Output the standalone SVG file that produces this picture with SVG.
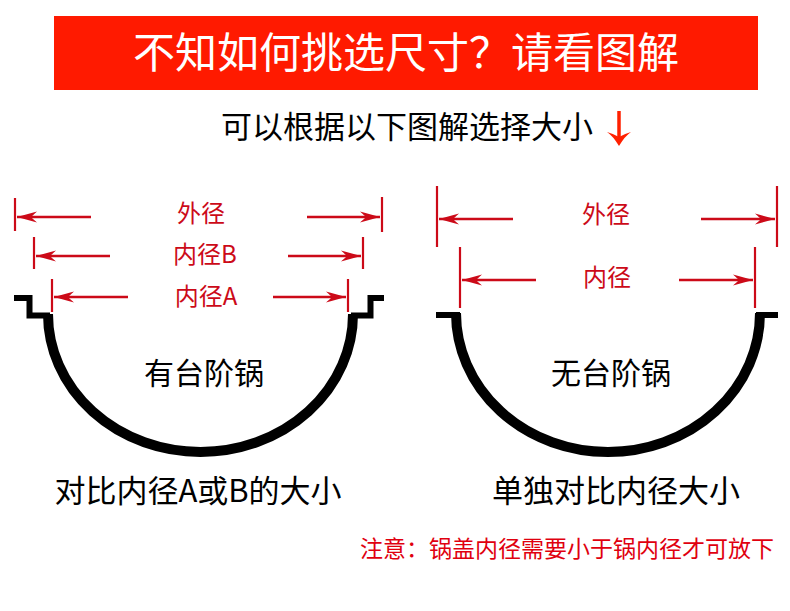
<svg xmlns="http://www.w3.org/2000/svg" width="790" height="611" viewBox="0 0 790 611">
<defs>
<style>
.cjk{font-family:"Noto Sans CJK SC","Noto Sans",sans-serif;text-anchor:middle}
.blk{fill:#000}
.lab{fill:#cc0a18;font-size:24px}
.dim{stroke:#cc0a18;stroke-width:2.5;fill:none;marker-end:url(#ah)}
.tick{stroke:#cc0a18;stroke-width:2.2}
.pot{stroke:#000;fill:none}
</style>
<marker id="ah" markerUnits="userSpaceOnUse" viewBox="-21 -6 22 12" refX="0" refY="0" markerWidth="22" markerHeight="12" orient="auto">
<path d="M0,0 L-20,-5.5 Q-15,-1 -14,0 Q-15,1 -20,5.5 Z" fill="#cc0a18"/>
</marker>
</defs>
<rect width="790" height="611" fill="#fff"/>
<g id="header">
<rect x="54" y="16" width="704" height="74" fill="#ff1a00"/>
<text class="cjk" x="406" y="68" font-size="42" fill="#fff">不知如何挑选尺寸？请看图解</text>
</g>
<g id="subtitle">
<text class="cjk blk" x="407" y="138" font-size="31">可以根据以下图解选择大小</text>
<line x1="619" y1="111" x2="619" y2="140" stroke="#ff2000" stroke-width="3.5"/>
<path d="M619,146 Q613,136 607,132 Q614,134 619,137 Q624,134 631,132 Q625,136 619,146 Z" fill="#ff2000"/>
</g>
<g id="pot-step">
<polyline class="pot" stroke-width="6" points="14,298 29.5,298 29.5,315.5 50,315.5"/>
<polyline class="pot" stroke-width="6" points="351,315.5 370.5,315.5 370.5,298 384,298"/>
<path class="pot" stroke-width="10" d="M48,314 A152.5,138 0 0 0 353,314"/>
<text class="cjk blk" x="204" y="384" font-size="30">有台阶锅</text>
<text class="cjk blk" x="198" y="502" font-size="31">对比内径A或B的大小</text>
</g>
<g id="pot-flat">
<line class="pot" stroke-width="6" x1="436" y1="315" x2="460" y2="315"/>
<line class="pot" stroke-width="6" x1="756" y1="315" x2="778" y2="315"/>
<path class="pot" stroke-width="10" d="M456,313 A152,139 0 0 0 760,313"/>
<text class="cjk blk" x="611" y="384" font-size="30">无台阶锅</text>
<text class="cjk blk" x="616" y="502" font-size="31">单独对比内径大小</text>
</g>
<g id="labels">
<text class="cjk lab" x="201" y="222">外径</text>
<text class="cjk lab" x="205" y="263">内径B</text>
<text class="cjk lab" x="206" y="305">内径A</text>
<text class="cjk lab" x="606" y="223">外径</text>
<text class="cjk lab" x="607" y="286">内径</text>
</g>
<g id="connectors">
<line class="tick" x1="15" y1="198" x2="15" y2="231"/>
<line class="tick" x1="382" y1="197" x2="382" y2="232"/>
<path class="dim" d="M91,217 L17,217"/>
<path class="dim" d="M307,217 L380,217"/>
<line class="tick" x1="34" y1="237" x2="34" y2="269"/>
<line class="tick" x1="363" y1="237" x2="363" y2="269"/>
<path class="dim" d="M110,256 L36,256"/>
<path class="dim" d="M288,256 L361,256"/>
<line class="tick" x1="52" y1="279" x2="52" y2="312"/>
<line class="tick" x1="348" y1="279" x2="348" y2="312"/>
<path class="dim" d="M128,297 L54,297"/>
<path class="dim" d="M273,297 L346,297"/>
<line class="tick" x1="437" y1="186" x2="437" y2="247"/>
<line class="tick" x1="777" y1="186" x2="777" y2="247"/>
<path class="dim" d="M513,219 L439,219"/>
<path class="dim" d="M701,219 L775,219"/>
<line class="tick" x1="460" y1="247" x2="460" y2="308"/>
<line class="tick" x1="755" y1="247" x2="755" y2="308"/>
<path class="dim" d="M536,280 L462,280"/>
<path class="dim" d="M679,280 L753,280"/>
</g>
<g id="note">
<text class="cjk" x="567" y="557" font-size="23" fill="#e0000f">注意：锅盖内径需要小于锅内径才可放下</text>
</g>
</svg>
